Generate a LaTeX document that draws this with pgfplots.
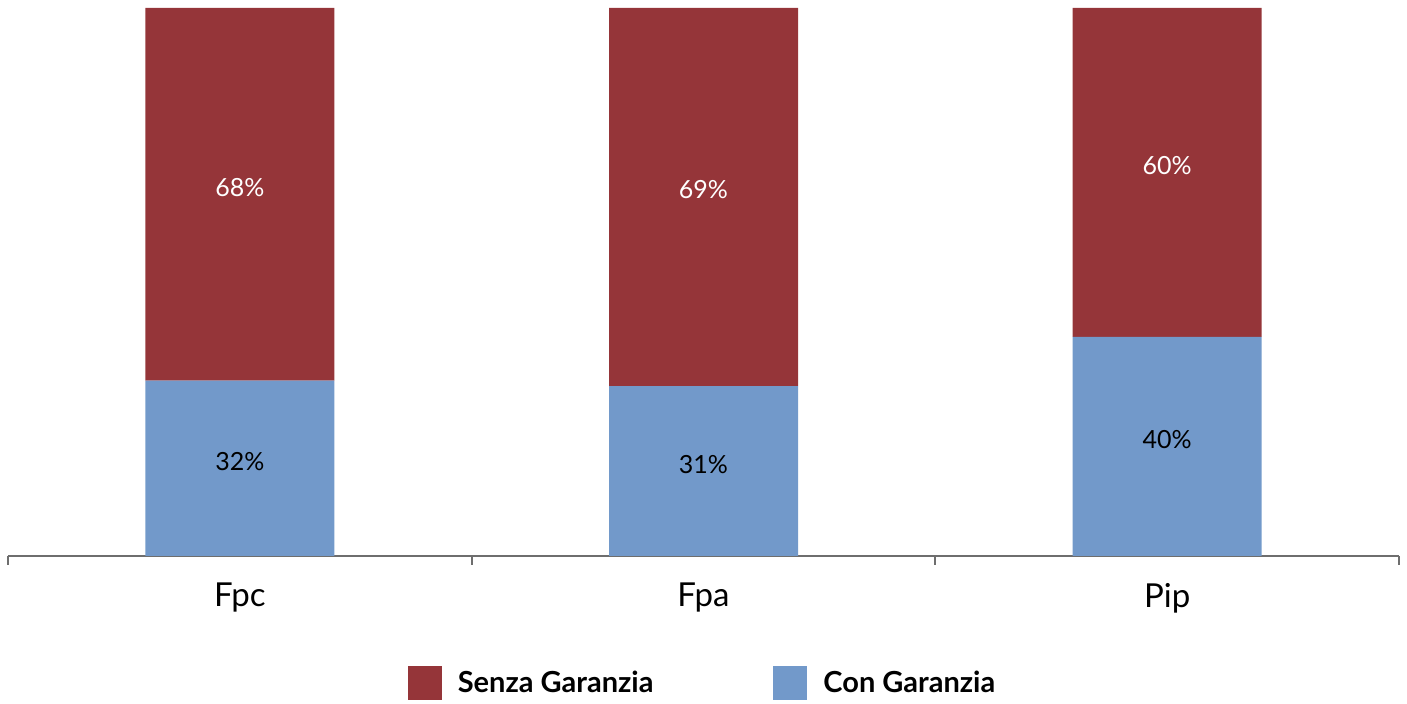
\documentclass[border=0pt]{standalone}
\usepackage{pgfplots}
\pgfplotsset{compat=1.18}
\usepackage{fontspec}
\setmainfont{Lato}
\definecolor{senza}{RGB}{149,53,57}
\definecolor{con}{RGB}{114,153,202}
\definecolor{axisgray}{RGB}{110,110,110}

\begin{document}
\begin{tikzpicture}
\begin{axis}[
    ybar stacked,
    scale only axis,
    width=695.5pt, height=274pt,
    bar width=94.5pt,
    xmin=-0.5, xmax=2.5,
    ymin=0, ymax=100,
    axis y line=none,
    axis x line*=bottom,
    x axis line style={axisgray, line width=1pt, -},
    xtick={0,1,2},
    xticklabels={Fpc, Fpa, Pip},
    major tick length=0pt,
    extra x ticks={-0.5,0.5,1.5,2.5},
    extra x tick labels={},
    extra x tick style={major tick length=4.5pt, tick align=outside,
        tick style={axisgray, line width=1pt}},
    xticklabel style={font=\fontsize{16.5}{19}\selectfont, yshift=-10pt},
    /pgf/number format/assume math mode=true,
    nodes near coords={\pgfmathprintnumber{\pgfplotspointmeta}\%},
    every node near coord/.append style={anchor=center,
        font=\fontsize{12.5}{15}\selectfont, yshift=3.5pt},
    reverse legend,
    legend columns=2,
    legend style={draw=none, at={(0.5,-63.5pt)}, anchor=center,
        font=\fontsize{14.5}{17}\selectfont\bfseries,
        /tikz/every odd column/.append style={column sep=6pt},
        /tikz/every even column/.append style={column sep=58pt}},
    legend image code/.code={\fill[#1] (0pt,-8.5pt) rectangle (17pt,8.5pt);},
    clip=false,
]
\addplot[fill=con, draw=none, every node near coord/.append style={text=black}]
    coordinates {(0,32) (1,31) (2,40)};
\addlegendentry{Con Garanzia}
\addplot[fill=senza, draw=none, every node near coord/.append style={text=white}]
    coordinates {(0,68) (1,69) (2,60)};
\addlegendentry{Senza Garanzia}
\path (rel axis cs:0,1) ++(-4pt,4pt) coordinate (tl);
\path (rel axis cs:1,0) ++(4pt,-72.5pt) coordinate (br);
\end{axis}
\path (tl) (br);
\end{tikzpicture}
\end{document}
